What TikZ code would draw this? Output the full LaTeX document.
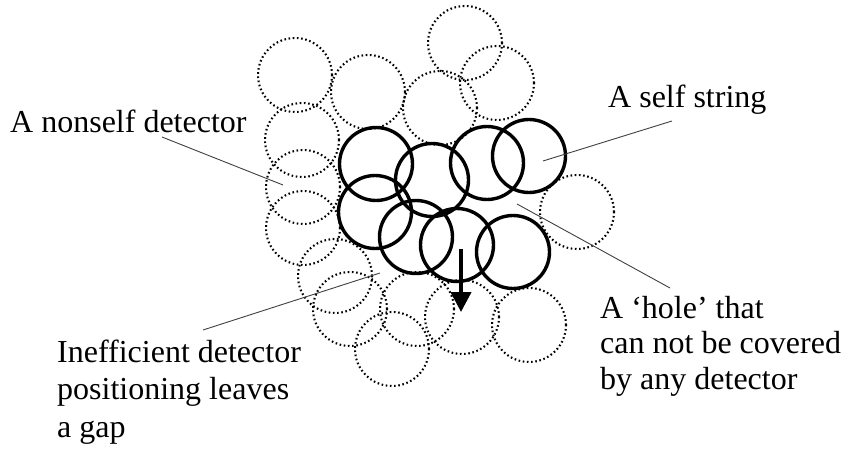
\documentclass[tikz,border=0pt]{standalone}
\usepackage{fontspec}
\setmainfont{Liberation Serif}
\usetikzlibrary{arrows.meta}
\tikzset{
  detector/.style={circle, draw=black, line width=2.1pt, dash pattern=on 1.6pt off 2.6pt, minimum size=74pt, inner sep=0pt},
  selfstr/.style={circle, draw=black, line width=3.4pt, minimum size=73pt, inner sep=0pt},
  leader/.style={draw=black!75, line width=0.9pt},
  lbl/.style={anchor=base west, inner sep=0pt, font=\fontsize{32}{37}\selectfont},
}
\begin{document}
\begin{tikzpicture}[x=1pt,y=-1pt]
\useasboundingbox (0,0) rectangle (846,449);
% nonself detectors (dotted)
\node[detector] (d1) at (295,75) {};
\node[detector] (d2) at (368,92) {};
\node[detector] (d3) at (465,43) {};
\node[detector] (d4) at (497,83) {};
\node[detector] (d5) at (440,108) {};
\node[detector] (d6) at (302,140) {};
\node[detector] (d7) at (303,187) {};
\node[detector] (d8) at (303,228) {};
\node[detector] (d9) at (335,276) {};
\node[detector] (d10) at (350,309) {};
\node[detector] (d11) at (392,349) {};
\node[detector] (d12) at (417,309) {};
\node[detector] (d13) at (462,317) {};
\node[detector] (d14) at (529,325) {};
\node[detector] (d15) at (577,212) {};
% self strings (solid)
\node[selfstr] (s1) at (376,164) {};
\node[selfstr] (s2) at (432,180) {};
\node[selfstr] (s3) at (487,163) {};
\node[selfstr] (s4) at (529,156) {};
\node[selfstr] (s5) at (375,212) {};
\node[selfstr] (s6) at (416,237) {};
\node[selfstr] (s7) at (457,245) {};
\node[selfstr] (s8) at (513,252) {};
% arrow
\coordinate (arrA) at (461,249);
\coordinate (arrB) at (461,312);
\draw[line width=4pt, -{Triangle[width=20pt,length=20pt]}] (arrA) -- (arrB);
% labels
\node[lbl] (tnonself) at (10,133) {A nonself detector};
\node[lbl] (tself) at (608,108) {A self string};
\node[lbl, font=\fontsize{32}{35.5}\selectfont] (thole) at (600,318) {\begin{tabular}[t]{@{}l@{}}A ‘hole’ that\\can not be covered\\by any detector\end{tabular}};
\node[lbl, font=\fontsize{32}{37.5}\selectfont] (tgap) at (57,362) {\begin{tabular}[t]{@{}l@{}}Inefficient detector\\positioning leaves\\a gap\end{tabular}};
% leader lines
\coordinate (nsA) at (162,137);
\coordinate (nsB) at (283,185);
\coordinate (ssA) at (672,121);
\coordinate (ssB) at (543,161);
\coordinate (hoA) at (670,288);
\coordinate (hoB) at (517,204);
\coordinate (gaA) at (203,330);
\coordinate (gaB) at (380,273);
\draw[leader] (nsA) -- (nsB);
\draw[leader] (ssA) -- (ssB);
\draw[leader] (hoA) -- (hoB);
\draw[leader] (gaA) -- (gaB);
\end{tikzpicture}
\end{document}
